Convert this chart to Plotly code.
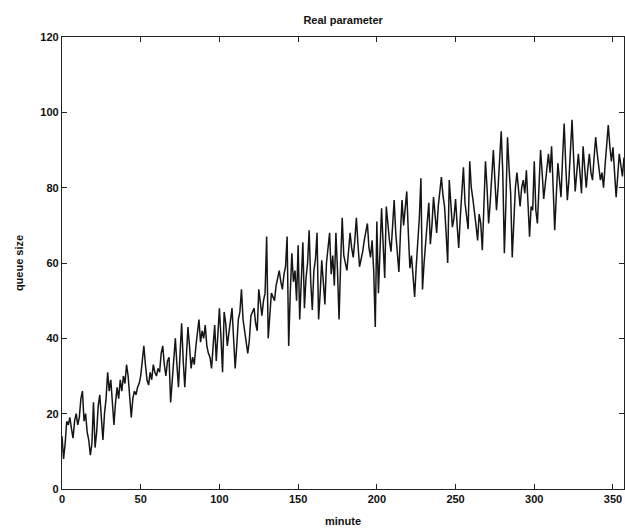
import plotly.graph_objects as go

queue_size = [
    14, 8, 12, 18, 17, 19, 16, 13.5, 18, 20,
    17, 19, 24, 26, 18, 20, 15, 13, 9, 12,
    23, 11, 15, 22, 25, 18, 13, 20, 24, 31,
    26, 29, 22, 17, 23, 27, 24, 29, 26, 30,
    28, 33, 30, 24, 19, 24, 26, 25, 27, 28,
    30, 34, 38, 33, 29, 27.6, 31, 29, 33, 31,
    30, 32, 31, 36, 38, 33, 30, 34, 35, 23,
    29, 35, 40, 33, 27, 36, 44, 34, 27, 35,
    43, 38, 32, 35, 33, 37.7, 41, 45, 39, 42,
    40, 43.5, 38, 36, 35, 32, 38, 43.5, 34, 40,
    48, 40, 31, 47, 44, 38, 41.6, 44, 48, 40,
    32, 38, 45, 47, 53, 45, 41.6, 39, 36, 39.5,
    46, 47, 48, 44, 42, 53, 49, 46, 50, 52,
    67, 40, 46, 52, 51, 50, 54, 56, 58, 55,
    53, 57, 59, 67, 38, 52, 62.6, 55, 58, 50,
    64.7, 45, 57, 65.5, 48, 56, 60, 68.7, 55, 47.5,
    58, 61, 68, 45, 52, 60.7, 55, 49, 60, 64,
    68, 57, 62, 54, 68, 58, 45, 60, 72, 62,
    60, 58, 63, 68, 64, 61.5, 66, 72, 65, 59,
    61, 63, 66, 68, 70.5, 64, 61.5, 66, 58, 43,
    71, 52, 62, 74.5, 65, 56, 75, 70, 66, 63,
    70, 76.7, 68, 63, 57.6, 68, 76.7, 70, 74, 79,
    68, 58.6, 62, 56, 51, 59, 66, 72, 82.5, 53,
    60, 66, 71, 76, 65, 70, 77.5, 72, 68, 75,
    80, 82.8, 78, 75, 68, 60, 82, 74, 69.5, 72,
    77, 70, 64, 72, 78, 85.4, 76, 72, 69, 87,
    80, 77, 74, 70, 66, 73, 70.5, 63.4, 75, 87,
    80, 70.5, 76, 84, 90, 82, 74, 80, 88, 95,
    84, 62.6, 76, 93.4, 85, 78.5, 61.5, 72, 80, 84,
    79, 75, 80, 82, 78.5, 84.6, 76, 67, 75, 74,
    87, 74, 70.5, 82, 90, 84, 77, 81, 85, 89,
    84, 91, 80, 68.7, 78, 86.5, 82, 77.5, 88, 97,
    86, 76.7, 82, 90, 98, 88, 79, 84, 89, 84,
    78.5, 91, 86, 80, 85, 89, 84, 82, 88, 93.4,
    89, 85.4, 82, 84, 80, 86, 92, 96.6, 91, 87,
    90.7, 84, 77.5, 83, 89, 86, 83, 88,
]
minutes = list(range(len(queue_size)))

x_ticks = [0, 50, 100, 150, 200, 250, 300, 350]
y_ticks = [0, 20, 40, 60, 80, 100, 120]

FONT = "Liberation Sans, Arial"

fig = go.Figure()
fig.add_trace(go.Scatter(
    x=minutes, y=queue_size, mode="lines",
    line=dict(color="#151515", width=1.5),
    showlegend=False,
))

axis_common = dict(
    showgrid=False, zeroline=False,
    showline=True, linecolor="#222", linewidth=1.3,
    mirror="ticks", ticks="inside", ticklen=5, tickcolor="#222", tickwidth=1.2,
    tickfont=dict(family=FONT, size=11, color="#111", weight="bold"),
)

fig.update_layout(
    width=625, height=531,
    margin=dict(l=62, r=1, t=37, b=42),
    paper_bgcolor="white", plot_bgcolor="white",
    title=dict(text="Real parameter", x=0.549, xanchor="center", y=0.962, yanchor="middle",
               font=dict(family=FONT, size=11, color="#111", weight="bold")),
    xaxis=dict(range=[0, 357], tickvals=x_ticks,
               title=dict(text="minute", standoff=12,
                          font=dict(family=FONT, size=11, color="#111", weight="bold")),
               **axis_common),
    yaxis=dict(range=[0, 120], tickvals=y_ticks,
               title=dict(text="queue size", standoff=14,
                          font=dict(family=FONT, size=11, color="#111", weight="bold")),
               **axis_common),
)

fig.write_html("out.html")
